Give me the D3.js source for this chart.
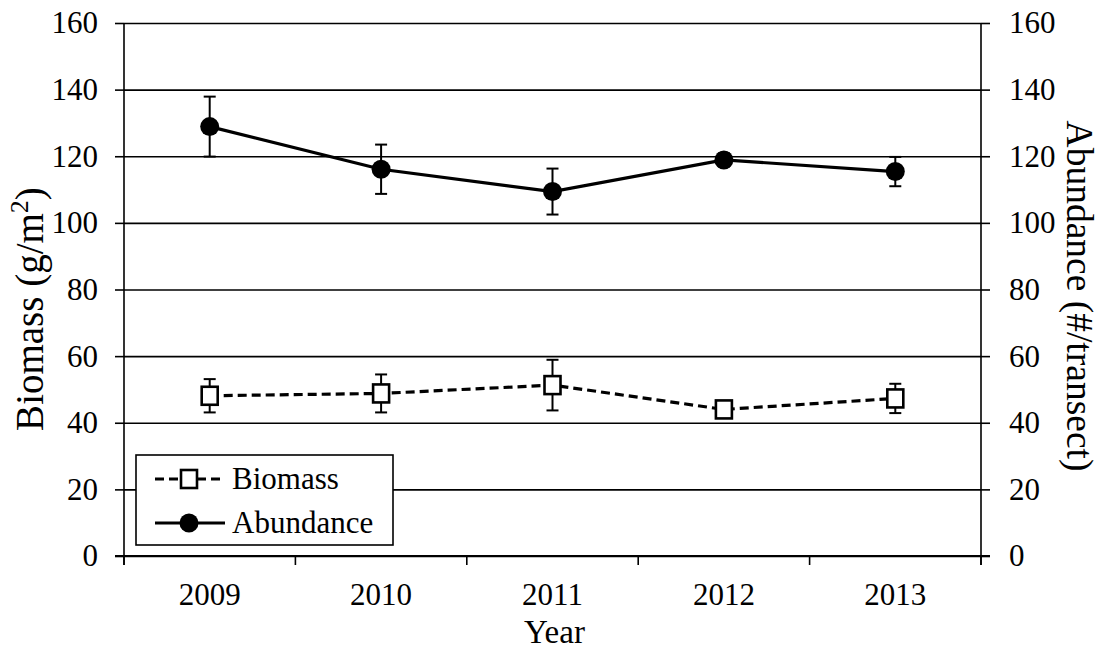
<!DOCTYPE html>
<html>
<head>
<meta charset="utf-8">
<script src="https://cdn.jsdelivr.net/npm/d3@7"></script>
<style>
  html, body { margin: 0; padding: 0; background: #fff; }
  svg text { font-family: "Liberation Serif", "Times New Roman", Times, "DejaVu Serif", serif !important; fill: #000; }
</style>
</head>
<body>
<svg id="chart" width="1100" height="651"></svg>
<script>
// ---- data ----
const years = ["2009", "2010", "2011", "2012", "2013"];
const biomass = [48.1, 48.8, 51.3, 44.0, 47.3];
const biomassErr = [5.0, 5.7, 7.6, 1.0, 4.4];
const abundance = [128.9, 116.1, 109.4, 118.9, 115.4];
const abundanceErr = [9.0, 7.4, 6.9, 2.0, 4.4];
const yTicks = [0, 20, 40, 60, 80, 100, 120, 140, 160];
const seriesNames = ["Biomass", "Abundance"];

(function () {
// ---- layout ----
const svg = d3.select("#chart");
const pL = 124, pR = 981, pT = 23, pB = 556;
const x = d3.scaleBand().domain(years).range([pL, pR]);
const yL = d3.scaleLinear().domain([0, 160]).range([pB, pT]);
const yR = d3.scaleLinear().domain([0, 160]).range([pB, pT]);

// gridlines
const grid = svg.append("g").attr("transform", `translate(${pL},0)`)
  .call(d3.axisLeft(yL).tickValues(yTicks).tickSize(-(pR - pL)).tickFormat(""));
grid.select(".domain").remove();
grid.selectAll("line").attr("stroke", "#000").attr("stroke-width", 1.6);

// left axis
const gL = svg.append("g").attr("transform", `translate(${pL},0)`)
  .call(d3.axisLeft(yL).tickValues(yTicks).tickSize(9).tickPadding(17).tickSizeOuter(0));
gL.attr("font-family", null);
gL.select(".domain").attr("stroke-width", 1.6).attr("d", `M0,${pT}V${pB + 9}`);
gL.selectAll("line").attr("stroke-width", 1.6);
gL.selectAll("text").style("font-size", "31px");

// right axis
const gR = svg.append("g").attr("transform", `translate(${pR},0)`)
  .call(d3.axisRight(yR).tickValues(yTicks).tickSize(9).tickPadding(19).tickSizeOuter(0));
gR.attr("font-family", null);
gR.select(".domain").attr("stroke-width", 1.6).attr("d", `M0,${pT}V${pB + 9}`);
gR.selectAll("line").attr("stroke-width", 1.6);
gR.selectAll("text").style("font-size", "31px");

// bottom axis (labels) and boundary ticks
const gB = svg.append("g").attr("transform", `translate(0,${pB})`)
  .call(d3.axisBottom(x).tickSize(0).tickPadding(27));
gB.attr("font-family", null);
gB.select(".domain").remove();
gB.selectAll("text").style("font-size", "31px");
const bounds = years.map(d => x(d)).concat([pR]);
svg.append("g").selectAll("line").data(bounds).join("line")
  .attr("x1", d => d).attr("x2", d => d)
  .attr("y1", pB).attr("y2", pB + 9)
  .attr("stroke", "#000").attr("stroke-width", 1.6);
svg.append("line").attr("x1", pL - 9).attr("x2", pR + 9)
  .attr("y1", pB).attr("y2", pB).attr("stroke", "#000").attr("stroke-width", 1.8);

// axis titles
svg.append("text").attr("x", (pL + pR) / 2 + 2).attr("y", 643)
  .attr("text-anchor", "middle").style("font-size", "33px").text("Year");
const lt = svg.append("text")
  .attr("transform", `translate(43,309) rotate(-90)`)
  .attr("text-anchor", "middle").style("font-size", "39px");
lt.append("tspan").text("Biomass (g/m");
lt.append("tspan").attr("dy", -15).style("font-size", "26px").text("2");
lt.append("tspan").attr("dy", 15).text(")");
svg.append("text")
  .attr("transform", `translate(1067,296) rotate(90)`)
  .attr("text-anchor", "middle").style("font-size", "37.5px").text("Abundance (#/transect)");

const cx = d => x(d) + x.bandwidth() / 2;

// error bars
function errBars(vals, errs, scale) {
  const g = svg.append("g").attr("stroke", "#000").attr("stroke-width", 2);
  years.forEach((d, i) => {
    const xc = cx(d), y1 = scale(vals[i] + errs[i]), y2 = scale(vals[i] - errs[i]);
    g.append("line").attr("x1", xc).attr("x2", xc).attr("y1", y1).attr("y2", y2);
    g.append("line").attr("x1", xc - 6).attr("x2", xc + 6).attr("y1", y1).attr("y2", y1);
    g.append("line").attr("x1", xc - 6).attr("x2", xc + 6).attr("y1", y2).attr("y2", y2);
  });
}
errBars(abundance, abundanceErr, yR);
errBars(biomass, biomassErr, yL);

// lines
const lineR = d3.line().x((d, i) => cx(years[i])).y(d => yR(d));
const lineL = d3.line().x((d, i) => cx(years[i])).y(d => yL(d));
svg.append("path").datum(abundance).attr("d", lineR)
  .attr("fill", "none").attr("stroke", "#000").attr("stroke-width", 3.2);
svg.append("path").datum(biomass).attr("d", lineL)
  .attr("fill", "none").attr("stroke", "#000").attr("stroke-width", 3.2)
  .attr("stroke-dasharray", "9,5");

// markers
svg.append("g").selectAll("circle").data(abundance).join("circle")
  .attr("cx", (d, i) => cx(years[i])).attr("cy", d => yR(d)).attr("r", 9.5)
  .attr("fill", "#000");
svg.append("g").selectAll("rect").data(biomass).join("rect")
  .attr("x", (d, i) => cx(years[i]) - 8).attr("y", d => yL(d) - 9)
  .attr("width", 16).attr("height", 18)
  .attr("fill", "#fff").attr("stroke", "#000").attr("stroke-width", 2.6);

// legend
const lg = svg.append("g");
lg.append("rect").attr("x", 136).attr("y", 455).attr("width", 257).attr("height", 90)
  .attr("fill", "#fff").attr("stroke", "#000").attr("stroke-width", 1.6);
const rows = [479, 523];
seriesNames.forEach((name, i) => {
  const yy = rows[i];
  lg.append("line").attr("x1", 155).attr("x2", 225).attr("y1", yy).attr("y2", yy)
    .attr("stroke", "#000").attr("stroke-width", 3.2)
    .attr("stroke-dasharray", i === 0 ? "9,5" : null);
  if (i === 0) {
    lg.append("rect").attr("x", 181).attr("y", yy - 9).attr("width", 16).attr("height", 18)
      .attr("fill", "#fff").attr("stroke", "#000").attr("stroke-width", 2.6);
  } else {
    lg.append("circle").attr("cx", 189).attr("cy", yy).attr("r", 9.5).attr("fill", "#000");
  }
  lg.append("text").attr("x", 232).attr("y", yy + 10).style("font-size", "31px").text(name);
});
})();
</script>
</body>
</html>
